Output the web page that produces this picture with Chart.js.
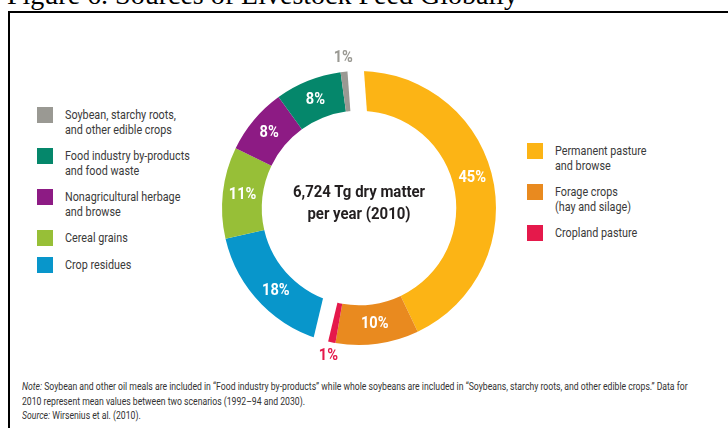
<!DOCTYPE html>
<html>
<head>
<meta charset="utf-8">
<script src="https://cdn.jsdelivr.net/npm/chart.js@4.4.1/dist/chart.umd.min.js"></script>
<style>
  html, body { margin: 0; padding: 0; background: #fff; }
  body { width: 728px; height: 428px; position: relative; overflow: hidden; }
  .narrow { font-family: Roboto, "Liberation Sans", sans-serif; }
  #title { position: absolute; left: 7px; top: -19px; font-family: "Liberation Serif", "Times New Roman", serif; font-size: 28px; line-height: 28px; color: #000; white-space: nowrap; }
  #frame { position: absolute; left: 8px; top: 11px; width: 800px; height: 500px; border: 2px solid #000; }
  #chartBox { position: absolute; left: 189px; top: 38px; width: 340px; height: 340px; }
  .legend { position: absolute; display: flex; flex-direction: column; gap: 12px; font-size: 13px; line-height: 14.5px; color: #3a3a3a; }
  .item { display: flex; align-items: flex-start; }
  .sw { width: 16px; height: 16px; flex: none; margin-right: 12px; margin-top: -1px; }
  .txt { transform: scaleX(0.83); transform-origin: left top; white-space: nowrap; }
  #legendLeft { left: 37px; top: 108px; }
  #legendRight { left: 527px; top: 144px; }
  #center { position: absolute; left: 259px; width: 200px; top: 180px; text-align: center; font-size: 17px; line-height: 22px; font-weight: bold; color: #231f20; transform: scaleX(0.88); }
  #notes { position: absolute; left: 22px; top: 380px; font-size: 10px; line-height: 14.5px; color: #333; white-space: nowrap; transform: scaleX(0.865); transform-origin: left top; }
</style>
</head>
<body>
<div id="title">Figure 6. Sources of Livestock Feed Globally</div>
<div id="frame"></div>
<div id="legendLeft" class="legend narrow"></div>
<div id="legendRight" class="legend narrow"></div>
<div id="chartBox"><canvas id="feed"></canvas></div>
<div id="center" class="narrow">6,724 Tg dry matter<br>per year (2010)</div>
<div id="notes" class="narrow">
  <div><i>Note:</i> Soybean and other oil meals are included in “Food industry by-products” while whole soybeans are included in “Soybeans, starchy roots, and other edible crops.” Data for</div>
  <div>2010 represent mean values between two scenarios (1992–94 and 2030).</div>
  <div><i>Source:</i> Wirsenius et al. (2010).</div>
</div>
<script>
// feed sources, clockwise from the top
const categories = [
  ['Permanent pasture', 'and browse'],
  ['Forage crops', '(hay and silage)'],
  ['Cropland pasture'],
  ['Crop residues'],
  ['Cereal grains'],
  ['Nonagricultural herbage', 'and browse'],
  ['Food industry by-products', 'and food waste'],
  ['Soybean, starchy roots,', 'and other edible crops']
];
const shares = [45, 10, 1, 18, 11, 8, 8, 1];
const colors = ['#fcb415', '#e98a1f', '#e5194b', '#0896cb', '#97bf37', '#8d1b84', '#05876b', '#9a9993'];

// which legend column each slice is listed in
const rightOrder = [0, 1, 2];
const leftOrder = [7, 6, 5, 4, 3];

// white cuts at the start of these slices: [slice, px before, px after]
const cuts = [[0, 1.5, 15], [3, 1, 14]];

const gapPlugin = {
  id: 'gaps',
  afterDatasetsDraw(chart) {
    const arcs = chart.getDatasetMeta(0).data;
    const ctx = chart.ctx;
    cuts.forEach(([i, before, after]) => {
      const a = arcs[i];
      ctx.save();
      ctx.translate(a.x, a.y);
      ctx.rotate(a.startAngle + Math.PI / 2);
      ctx.fillStyle = '#fff';
      ctx.fillRect(-before, -a.outerRadius - 2, before + after, a.outerRadius - a.innerRadius + 4);
      ctx.restore();
    });
  }
};

const labelPlugin = {
  id: 'pctLabels',
  afterDatasetsDraw(chart) {
    const arcs = chart.getDatasetMeta(0).data;
    const ctx = chart.ctx;
    ctx.save();
    ctx.textAlign = 'center';
    ctx.textBaseline = 'middle';
    ctx.font = 'bold 17px Roboto, "Liberation Sans", sans-serif';
    arcs.forEach((a, i) => {
      const mid = (a.startAngle + a.endAngle) / 2;
      let r = (a.innerRadius + a.outerRadius) / 2;
      if (shares[i] < 2) {
        // slivers get their label outside the ring, in the slice colour
        r = a.outerRadius + 14;
        ctx.fillStyle = colors[i];
      } else {
        ctx.fillStyle = '#fff';
      }
      ctx.save();
      ctx.translate(a.x + Math.cos(mid) * r, a.y + Math.sin(mid) * r);
      ctx.scale(0.86, 1);
      ctx.fillText(shares[i] + '%', 0, 0);
      ctx.restore();
    });
    ctx.restore();
  }
};

new Chart(document.getElementById('feed'), {
  type: 'doughnut',
  data: {
    labels: categories,
    datasets: [{
      data: shares,
      backgroundColor: colors,
      borderWidth: 0
    }]
  },
  options: {
    responsive: true,
    maintainAspectRatio: false,
    animation: false,
    rotation: -4.2,
    cutout: '71%',
    layout: { padding: 33 },
    plugins: {
      legend: { display: false },
      tooltip: { enabled: false }
    }
  },
  plugins: [gapPlugin, labelPlugin]
});

// html legends built from the same arrays
function buildLegend(el, order) {
  order.forEach(i => {
    const item = document.createElement('div');
    item.className = 'item';
    const sw = document.createElement('div');
    sw.className = 'sw';
    sw.style.background = colors[i];
    const txt = document.createElement('div');
    txt.className = 'txt';
    txt.innerHTML = categories[i].join('<br>');
    item.appendChild(sw);
    item.appendChild(txt);
    el.appendChild(item);
  });
}
buildLegend(document.getElementById('legendLeft'), leftOrder);
buildLegend(document.getElementById('legendRight'), rightOrder);
</script>
</body>
</html>
